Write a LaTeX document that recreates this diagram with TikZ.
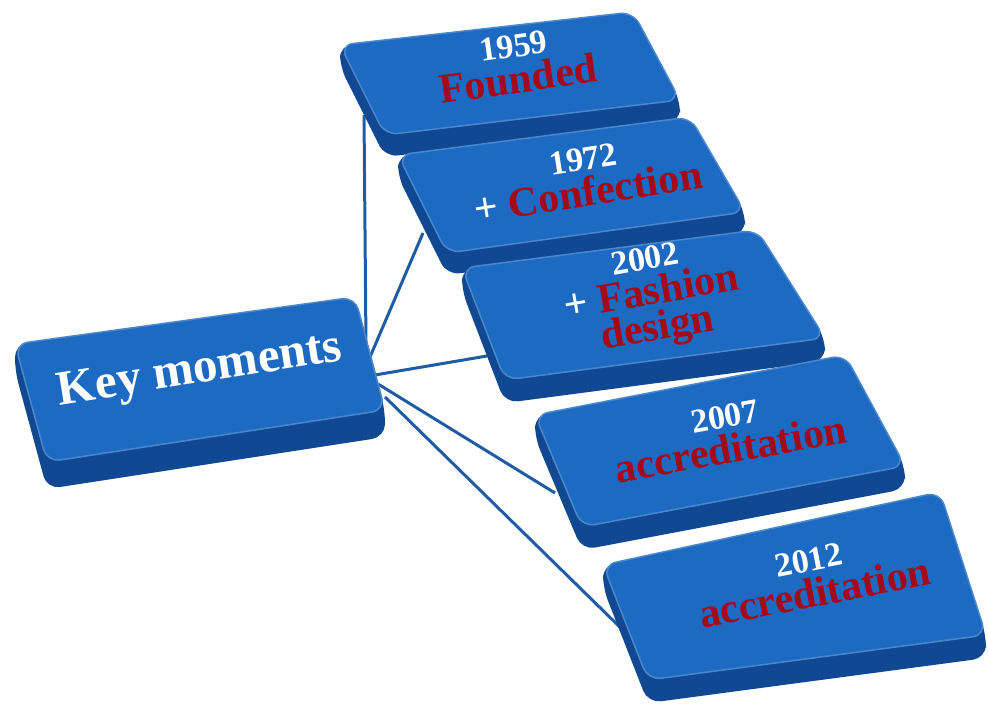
\documentclass[tikz,border=0pt]{standalone}
\usepackage{fontspec}
\setmainfont{Liberation Serif}
\usepackage{xcolor}

\definecolor{facebl}{RGB}{29,106,194}
\definecolor{sidebl}{RGB}{16,72,146}
\definecolor{linebl}{RGB}{30,92,166}
\definecolor{wordred}{RGB}{165,10,26}

\begin{document}
\begin{tikzpicture}[
    x=1pt, y=-1pt,
    font=\bfseries,
    side/.style={fill=sidebl, rounded corners=13pt},
    face/.style={fill=facebl, draw=facebl!80!white, line width=1.5pt, rounded corners=13pt},
    link/.style={draw=linebl, line width=3pt},
    boxtext/.style={text=wordred, align=center, font=\fontsize{42}{36}\selectfont\bfseries},
]
\useasboundingbox (0,0) rectangle (988,711);

\newcommand{\yr}[1]{{\fontsize{34}{36}\selectfont\color{white}#1}}

% Connector ends
\coordinate (k1) at (366,346);
\coordinate (k2) at (370,357);
\coordinate (k3) at (375,375);
\coordinate (k4) at (378,384);
\coordinate (k5) at (385,397);
\coordinate (e1) at (364,115);
\coordinate (e2) at (423,233);
\coordinate (e3) at (487,356);
\coordinate (e4) at (555,493);
\coordinate (e5) at (630,637);

% Connectors
\draw[link] (k1) -- (e1);
\draw[link] (k2) -- (e2);
\draw[link] (k3) -- (e3);
\draw[link] (k4) -- (e4);
\draw[link] (k5) -- (e5);

% Key moments
\fill[side] (15,344) -- (355,297) -- (385,410) -- (385,437) -- (47,489) -- (15,371) -- cycle;
\draw[face] (15,344) -- (355,297) -- (385,410) -- (47,462) -- cycle;
\node[text=white, font=\fontsize{49}{51}\selectfont\bfseries, rotate=9] (key) at (200,372) {Key moments};

% 1959
\fill[side] (340,45) -- (633,12) -- (680,100) -- (680,122) -- (385,157) -- (340,67) -- cycle;
\draw[face] (340,45) -- (633,12) -- (680,100) -- (385,135) -- cycle;
\node[boxtext, rotate=8] (t1959) at (516,64) {\yr{1959}\\Founded};

% 1972
\fill[side] (398,155) -- (690,117) -- (745,212) -- (745,234) -- (447,275) -- (398,177) -- cycle;
\draw[face] (398,155) -- (690,117) -- (745,212) -- (447,253) -- cycle;
\node[boxtext, rotate=9] (t1972) at (586,177) {\yr{1972}\\{\color{white}+} Confection};

% 2002
\fill[side] (462,268) -- (757,230) -- (825,338) -- (825,361) -- (505,403) -- (462,291) -- cycle;
\draw[face] (462,268) -- (757,230) -- (825,338) -- (505,380) -- cycle;
\node[boxtext, rotate=10] (t2002) at (652,298) {\yr{2002}\\{\color{white}+} Fashion\\design};

% 2007
\fill[side] (535,415) -- (845,355) -- (905,466) -- (905,489) -- (582,550) -- (535,438) -- cycle;
\draw[face] (535,415) -- (845,355) -- (905,466) -- (582,527) -- cycle;
\node[boxtext, rotate=10] (t2007) at (728,434) {\yr{2007}\\accreditation};

% 2012
\fill[side] (603,565) -- (940,492) -- (986,635) -- (986,658) -- (648,703) -- (603,588) -- cycle;
\draw[face] (603,565) -- (940,492) -- (986,635) -- (648,680) -- cycle;
\node[boxtext, rotate=11] (t2012) at (812,578) {\yr{2012}\\accreditation};

\end{tikzpicture}
\end{document}
